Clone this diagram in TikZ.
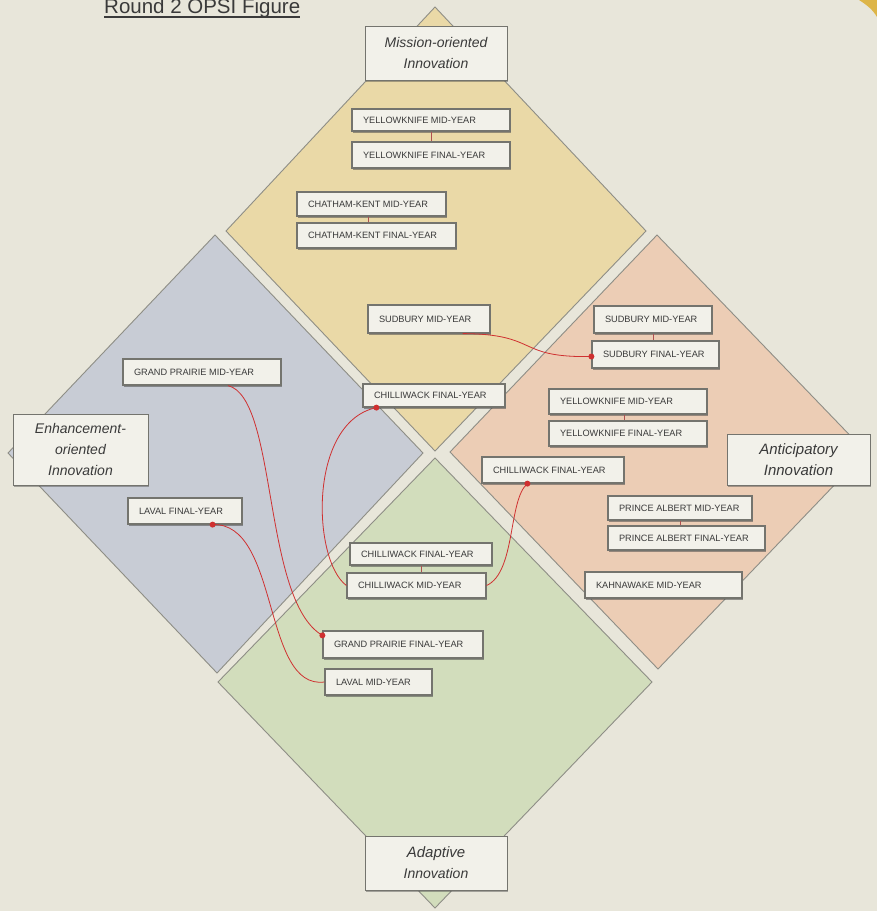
\documentclass[tikz,border=0pt]{standalone}
\usepackage{fontspec}
\setmainfont{Liberation Sans}
\usetikzlibrary{calc,shadows}
\definecolor{bg}{HTML}{E8E6DA}
\definecolor{yel}{HTML}{EAD9A7}
\definecolor{blu}{HTML}{C8CCD5}
\definecolor{ora}{HTML}{ECCDB5}
\definecolor{grn}{HTML}{D2DDBC}
\definecolor{edge}{HTML}{8E8E86}
\definecolor{boxfill}{HTML}{F2F1EA}
\definecolor{boxline}{HTML}{74746E}
\definecolor{txt}{HTML}{3A3A3A}
\definecolor{redl}{HTML}{CF3030}
\definecolor{gold}{HTML}{DDB548}
\tikzset{
  quad/.style={draw=edge, line width=0.9pt, line join=miter},
  cityb/.style={draw=boxline, fill=boxfill, line width=1.2pt, inner xsep=11pt, inner ysep=0pt,
    font=\fontsize{9.2}{10}\selectfont, text=txt, anchor=center,
    drop shadow={shadow xshift=1.2pt, shadow yshift=-1.6pt, fill=black!70, opacity=0.55}},
  labelb/.style={draw=boxline, fill=boxfill, line width=1pt, align=center, inner sep=0pt,
    font=\itshape\fontsize{14}{21}\selectfont, text=txt,
    drop shadow={shadow xshift=1.2pt, shadow yshift=-1.6pt, fill=black!70, opacity=0.45}},
  link/.style={draw=redl, line width=0.8pt},
  tick/.style={draw=redl!60!gray, line width=0.6pt},
  dotend/.style={fill=redl, draw=none}
}
\newcommand\cbox[6]{\node[cityb, minimum width=#4pt, minimum height=#5pt] (#1) at (#2,#3) {\makebox[\dimexpr#4pt-22pt\relax][l]{\raisebox{-0.3pt}{#6}}};}
\begin{document}
\begin{tikzpicture}[x=1pt,y=-1pt]
\useasboundingbox (0,0) rectangle (877,911);
\fill[bg] (0,0) rectangle (877,911);
\fill[gold] (859,0) .. controls (867,5) and (873,10) .. (877,17) -- (877,0) -- cycle;

% title
\node[anchor=base west, inner sep=0pt, text=txt, font=\fontsize{20.5}{22}\selectfont] (title) at (104,13) {Round 2 OPSI Figure};
\draw[txt, line width=1.3pt] ($(title.base west)+(0,4)$) -- ($(title.base east)+(0,4)$);

% quadrants
\filldraw[quad, fill=yel] (435,7) -- (646,231) -- (435,451) -- (226,231) -- cycle;
\filldraw[quad, fill=blu] (215,235) -- (423,453) -- (217,673) -- (8,453) -- cycle;
\filldraw[quad, fill=ora] (657,235) -- (866,452) -- (658,669) -- (450,452) -- cycle;
\filldraw[quad, fill=grn] (435,458) -- (652,682) -- (435,908) -- (218,682) -- cycle;

% quadrant labels
\node[labelb, minimum width=142pt, minimum height=54pt] (mis) at (436,53) {Mission-oriented\\Innovation};
\node[labelb, minimum width=135pt, minimum height=71pt] (enh) at (80.5,449.5) {Enhancement-\\oriented\\Innovation};
\node[labelb, minimum width=143pt, minimum height=51pt, font=\itshape\fontsize{15}{21}\selectfont] (ant) at (798.5,459.5) {Anticipatory\\Innovation};
\node[labelb, minimum width=142pt, minimum height=54pt] (ada) at (436,863) {{\fontsize{15}{21}\selectfont Adaptive}\\Innovation};

% yellow quadrant
\cbox{ykmA}{431}{120}{158}{22}{YELLOWKNIFE MID-YEAR}
\cbox{ykfA}{431}{155}{158}{26}{YELLOWKNIFE FINAL-YEAR}
\cbox{ckm}{371.5}{204}{149}{24}{CHATHAM-KENT MID-YEAR}
\cbox{ckf}{376.5}{235.5}{159}{25}{CHATHAM-KENT FINAL-YEAR}
\cbox{sbmA}{429}{319}{122}{28}{SUDBURY MID-YEAR}
\cbox{chfA}{434}{395.5}{142}{23}{CHILLIWACK FINAL-YEAR}

% orange quadrant
\cbox{sbmB}{653}{319.5}{118}{27}{SUDBURY MID-YEAR}
\cbox{sbfB}{655.5}{354.5}{127}{27}{SUDBURY FINAL-YEAR}
\cbox{ykmB}{628}{401.5}{158}{25}{YELLOWKNIFE MID-YEAR}
\cbox{ykfB}{628}{433.5}{158}{25}{YELLOWKNIFE FINAL-YEAR}
\cbox{chfB}{553}{470}{142}{26}{CHILLIWACK FINAL-YEAR}
\cbox{pam}{680}{508}{144}{24}{PRINCE ALBERT MID-YEAR}
\cbox{paf}{686.5}{538}{157}{24}{PRINCE ALBERT FINAL-YEAR}
\cbox{kmm}{663.5}{585}{157}{26}{KAHNAWAKE MID-YEAR}

% blue quadrant
\cbox{gpm}{202}{372}{158}{26}{GRAND PRAIRIE MID-YEAR}
\cbox{lvf}{185}{511}{114}{26}{LAVAL FINAL-YEAR}

% green quadrant
\cbox{chfC}{421}{554}{142}{22}{CHILLIWACK FINAL-YEAR}
\cbox{chmC}{416.5}{585.5}{139}{25}{CHILLIWACK MID-YEAR}
\cbox{gpf}{403}{644.5}{160}{27}{GRAND PRAIRIE FINAL-YEAR}
\cbox{lvm}{378.5}{682}{107}{26}{LAVAL MID-YEAR}

% short ticks between stacked boxes
\draw[tick] (ykmA.south) -- (ykfA.north);
\draw[tick] ($(ckm.south)+(-3,0)$) -- ($(ckm.south |- ckf.north)+(-3,0)$);
\draw[tick] (sbmB.south) -- (sbmB.south |- sbfB.north);
\draw[tick] ($(ykmB.south)+(-4,0)$) -- ($(ykmB.south |- ykfB.north)+(-4,0)$);
\draw[tick] (pam.south) -- (pam.south |- paf.north);
\draw[tick] (chfC.south) -- (chfC.south |- chmC.north);

% red connectors
\coordinate (e1) at ($(sbfB.west)+(0,2)$);
\draw[link] ($(sbmA.south east)+(-28,0)$) .. controls (540,334) and (515,358) .. (e1);
\fill[dotend] (e1) circle (3);

\coordinate (e2) at ($(gpf.north west)+(0,5)$);
\draw[link] ($(gpm.south)+(26,0)$) .. controls (278,398) and (262,600) .. (e2);
\fill[dotend] (e2) circle (3);

\coordinate (e3) at ($(chfA.south west)+(14,0)$);
\draw[link] (chmC.west) .. controls (312,560) and (308,422) .. (e3);
\fill[dotend] (e3) circle (3);

\coordinate (e4) at ($(chfB.south west)+(46,0)$);
\draw[link] (chmC.east) .. controls (516,572) and (508,500) .. (e4);
\fill[dotend] (e4) circle (3);

\coordinate (e5) at ($(lvf.south east)+(-30,0)$);
\draw[link] (lvm.west) .. controls (262,690) and (280,522) .. (e5);
\fill[dotend] (e5) circle (3);
\end{tikzpicture}
\end{document}
